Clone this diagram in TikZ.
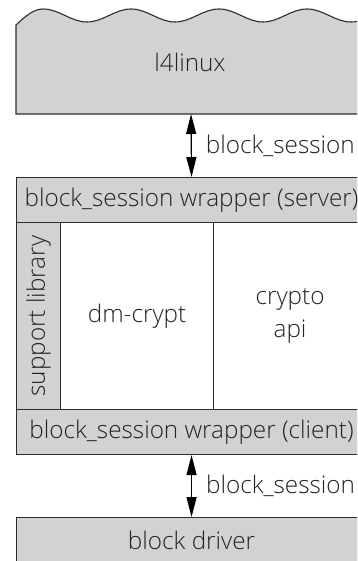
\documentclass[tikz,border=0pt]{standalone}
\usepackage{fontspec}
\setmainfont{Open Sans Light}
\usetikzlibrary{arrows.meta}
\definecolor{boxgray}{RGB}{209,210,212}
\definecolor{linecol}{RGB}{45,45,45}
\definecolor{textcol}{RGB}{35,35,35}
\begin{document}
\begin{tikzpicture}[x=1pt,y=-1pt,
  txt/.style={text=textcol, font=\fontsize{24.3}{33}\selectfont},
  box/.style={draw=linecol, line width=1.1pt, fill=boxgray, inner sep=0pt, anchor=north west, txt},
  wbox/.style={box, fill=white},
  arr/.style={{Triangle[length=20pt,width=10pt]}-{Triangle[length=20pt,width=10pt]}, draw=black, line width=1.2pt},
  lbl/.style={txt, anchor=west, inner sep=0pt, xshift=14pt}
]
\useasboundingbox (0,0) rectangle (357,561);
\fill[white] (0,0) rectangle (357,561);
\begin{scope}
\clip (0,0) rectangle (357,561);
% l4linux cloud-topped box
\draw[draw=linecol, line width=1.1pt, fill=boxgray]
  (16,114) -- (16,25) sin (43,9)
  cos (65,15.5) sin (87,22) cos (109,15.5) sin (131,9)
  cos (153,15.5) sin (175,22) cos (197,15.5) sin (219,9)
  cos (241,15.5) sin (263,22) cos (285,15.5) sin (307,9)
  cos (329,15.5) sin (351,22) cos (373,15.5)
  -- (373,114) -- cycle;
\node[txt] (l4) at (190,62) {l4linux};
\coordinate (l4s) at (191,114);
% server wrapper
\node[box, minimum width=350pt, minimum height=45pt] (server) at (16,177) {block\_session wrapper (server)};
% middle column boxes
\node[box, minimum width=44pt, minimum height=187pt] (supp) at (16,222) {\rotatebox{90}{support library}};
\node[wbox, minimum width=153pt, minimum height=187pt] (dm) at (60,222) {dm-crypt};
\node[wbox, minimum width=153pt, minimum height=187pt, align=center] (capi) at (213,222) {crypto\\api};
% client wrapper
\node[box, minimum width=350pt, minimum height=45pt] (client) at (16,409) {block\_session wrapper (client)};
% block driver
\node[box, minimum width=350pt, minimum height=46pt] (driver) at (16,517) {block driver};
% connectors
\draw[arr] (l4s) -- node[lbl] {block\_session} (server.north);
\draw[arr] (client.south) -- node[lbl] {block\_session} (driver.north);
\end{scope}
\end{tikzpicture}
\end{document}
